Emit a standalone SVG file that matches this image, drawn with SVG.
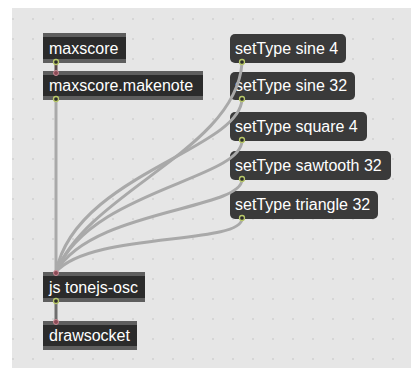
<svg xmlns="http://www.w3.org/2000/svg" width="411" height="378" viewBox="0 0 411 378">
<defs>
<pattern id="grid" x="12" y="18" width="20" height="20" patternUnits="userSpaceOnUse">
<rect x="0" y="0" width="2" height="2" fill="#d6d6d6"/>
</pattern>
<style>
.obj{fill:#5e5e5e}
.objin{fill:#2b2b2b}
.msg{fill:#3a3a3a}
.msgtop{fill:#4e4e4e}
.t{font-family:"Liberation Sans",Arial,sans-serif;font-size:16px;fill:#ffffff}
.cord{fill:none;stroke:#a9a9a9;stroke-width:3;stroke-linecap:round}
.short{fill:none;stroke:#5a4a4a;stroke-width:3}
.outlet{fill:#2b2b2b;stroke:#b9c96a;stroke-width:1.3}
.inlet{fill:#8a4a55;stroke:#c98a96;stroke-width:1}
</style>
</defs>
<rect x="0" y="0" width="411" height="378" fill="#ffffff"/>
<rect x="12" y="8" width="399" height="360" fill="#e6e6e6"/>
<rect x="12" y="8" width="399" height="360" fill="url(#grid)"/>

<g id="maxscore">
<rect class="obj" x="43" y="33" width="83" height="30"/>
<rect class="objin" x="43" y="37" width="83" height="22"/>
<text class="t" x="49" y="54">maxscore</text>
</g>
<g id="makenote">
<rect class="obj" x="43" y="71" width="160" height="29"/>
<rect class="objin" x="43" y="75" width="160" height="21"/>
<text class="t" x="49" y="91">maxscore.makenote</text>
</g>
<g id="js">
<rect class="obj" x="43" y="272" width="102" height="30"/>
<rect class="objin" x="43" y="276" width="102" height="22"/>
<text class="t" x="49" y="293">js tonejs-osc</text>
</g>
<g id="drawsocket">
<rect class="obj" x="43" y="321" width="94" height="29"/>
<rect class="objin" x="43" y="325" width="94" height="21"/>
<text class="t" x="49" y="341">drawsocket</text>
</g>

<g id="sine4">
<rect class="msg" x="230" y="34" width="116" height="29" rx="5"/>
<text class="t" x="235" y="54">setType sine 4</text>
</g>
<g id="sine32">
<rect class="msg" x="230" y="72" width="125" height="28" rx="5"/>
<text class="t" x="235" y="91">setType sine 32</text>
</g>
<g id="square4">
<rect class="msg" x="230" y="112" width="137" height="29" rx="5"/>
<text class="t" x="235" y="132">setType square 4</text>
</g>
<g id="saw32">
<rect class="msg" x="230" y="151" width="161" height="29" rx="5"/>
<text class="t" x="235" y="171">setType sawtooth 32</text>
</g>
<g id="tri32">
<rect class="msg" x="230" y="191" width="148" height="28" rx="5"/>
<text class="t" x="235" y="210">setType triangle 32</text>
</g>

<g id="connectors">
<path class="short" d="M56,63 L56,71"/>
<path class="cord" d="M56,100 L56,272"/>
<path class="short" d="M56,302 L56,321" style="stroke:#6e6e6e"/>
<path class="cord" d="M242,63 C236,150 90,190 56,272"/>
<path class="cord" d="M242,99 C240,150 75,175 56,272"/>
<path class="cord" d="M242,141 C240,180 90,190 56,272"/>
<path class="cord" d="M242,180 C240,210 90,210 56,272"/>
<path class="cord" d="M242,219 C240,245 90,232 56,272"/>
<circle class="outlet" cx="56" cy="62" r="2.5"/>
<circle class="inlet" cx="56" cy="73" r="2.5"/>
<circle class="outlet" cx="56" cy="99" r="2.5"/>
<circle class="inlet" cx="56" cy="273" r="2.5"/>
<circle class="outlet" cx="56" cy="301" r="2.5"/>
<circle class="inlet" cx="56" cy="322" r="2.5"/>
<circle class="outlet" cx="242" cy="62" r="2.5"/>
<circle class="outlet" cx="242" cy="99" r="2.5"/>
<circle class="outlet" cx="242" cy="140" r="2.5"/>
<circle class="outlet" cx="242" cy="179" r="2.5"/>
<circle class="outlet" cx="242" cy="218" r="2.5"/>
</g>
</svg>
